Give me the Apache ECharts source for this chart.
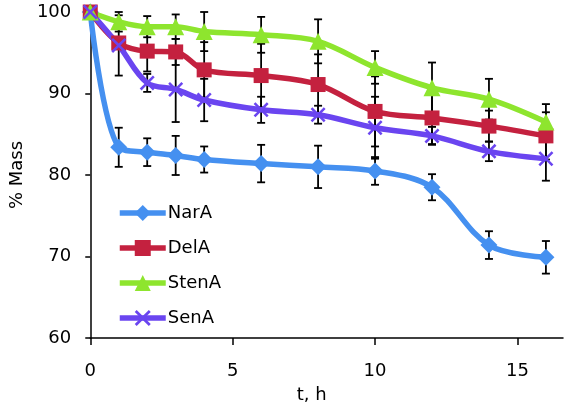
<!DOCTYPE html>
<html>
<head>
<meta charset="utf-8">
<script src="https://cdn.jsdelivr.net/npm/echarts@6/dist/echarts.min.js"></script>
<style>
html,body{margin:0;padding:0;background:#fff;}
#chart{width:564px;height:409px;}
</style>
</head>
<body>
<div id="chart"></div>
<script>
var times = [0, 1, 2, 3, 4, 6, 8, 10, 12, 14, 16];
var seriesNames = ['NarA', 'DelA', 'StenA', 'SenA'];
var narA  = [100, 83.4, 82.8, 82.4, 81.9, 81.4, 81.0, 80.5, 78.5, 71.4, 69.9];
var delA  = [100, 96.2, 95.2, 95.1, 92.9, 92.2, 91.1, 87.8, 87.0, 86.0, 84.8];
var stenA = [100, 98.8, 98.2, 98.2, 97.6, 97.2, 96.4, 93.2, 90.7, 89.3, 86.5];
var senA  = [100, 95.9, 91.3, 90.5, 89.2, 88.0, 87.4, 85.8, 84.8, 82.9, 82.0];
var narErr  = [0, 2.4, 1.7, 2.4, 1.6, 2.3, 2.6, 1.7, 1.6, 1.7, 2.0];
var delErr  = [0, 0.6, 2.5, 1.6, 3.4, 3.9, 3.7, 4.3, 3.2, 1.9, 2.9];
var stenErr = [0, 1.2, 1.3, 1.5, 2.4, 2.2, 2.7, 2.0, 3.1, 2.5, 2.2];
var senErr  = [0, 3.7, 1.1, 4.0, 2.6, 1.6, 1.1, 3.8, 1.1, 1.2, 2.7];
var yTicks = [60, 70, 80, 90, 100];
var xTicks = [0, 5, 10, 15];

var FONT = 'DejaVu Sans';
var colors = ['#4590f0', '#c4213f', '#8ee52e', '#6a45f0'];
var symbols = ['diamond', 'rect', 'triangle',
  'path://M1.2,0 L5,3.8 L8.8,0 L10,1.2 L6.2,5 L10,8.8 L8.8,10 L5,6.2 L1.2,10 L0,8.8 L3.8,5 L0,1.2 Z'];
var symSizes = [17, 15, 17, 15];
var values = [narA, delA, stenA, senA];
var errs = [narErr, delErr, stenErr, senErr];

function pairs(vals) {
  return times.map(function (t, i) { return [t, vals[i]]; });
}
function errData(vals, e) {
  return times.map(function (t, i) { return [t, vals[i] - e[i], vals[i] + e[i]]; });
}

var series = [];
for (var k = 0; k < 4; k++) {
  series.push({
    type: 'custom',
    name: seriesNames[k] + ' err',
    z: 1,
    silent: true,
    clip: false,
    data: errData(values[k], errs[k]),
    renderItem: function (params, api) {
      var x = api.value(0);
      var lo = api.coord([x, api.value(1)]);
      var hi = api.coord([x, api.value(2)]);
      if (Math.abs(lo[1] - hi[1]) < 0.5) return null;
      var w = 4;
      var st = { stroke: '#000', lineWidth: 1.8 };
      return {
        type: 'group',
        children: [
          { type: 'line', shape: { x1: lo[0], y1: lo[1], x2: hi[0], y2: hi[1] }, style: st },
          { type: 'line', shape: { x1: lo[0] - w, y1: lo[1], x2: lo[0] + w, y2: lo[1] }, style: st },
          { type: 'line', shape: { x1: hi[0] - w, y1: hi[1], x2: hi[0] + w, y2: hi[1] }, style: st }
        ]
      };
    }
  });
}
for (var j = 0; j < 4; j++) {
  series.push({
    type: 'line',
    name: seriesNames[j],
    z: 3,
    data: pairs(values[j]),
    smooth: 0.35,
    symbol: symbols[j],
    symbolSize: symSizes[j],
    showAllSymbol: true,
    lineStyle: { color: colors[j], width: 5.5 },
    itemStyle: { color: colors[j], opacity: 1 },
    emphasis: { disabled: true }
  });
}

var chart = echarts.init(document.getElementById('chart'), null, { renderer: 'canvas' });
chart.setOption({
  animation: false,
  backgroundColor: '#fff',
  textStyle: { fontFamily: FONT, color: '#000' },
  grid: { left: 83, right: 1, top: 12, bottom: 69, containLabel: false },
  legend: {
    data: seriesNames,
    orient: 'vertical',
    left: 112,
    top: 199,
    itemWidth: 46,
    itemHeight: 20,
    itemGap: 17,
    textStyle: { fontSize: 18, color: '#000', fontFamily: FONT, padding: [0, 0, 0, -3] },
    lineStyle: { width: 5.5 },
    selectedMode: false
  },
  xAxis: {
    type: 'value',
    min: 0,
    max: 16.6,
    interval: 5,
    name: 't, h',
    nameLocation: 'middle',
    nameGap: 48,
    nameTextStyle: { fontSize: 18, color: '#000', fontFamily: FONT, padding: [0, 30, 0, 0] },
    axisLine: { show: true, onZero: false, lineStyle: { color: '#000', width: 1.5 } },
    axisTick: { show: true, inside: false, length: 7, lineStyle: { color: '#000', width: 1.5 } },
    axisLabel: {
      fontSize: 18, color: '#000', margin: 24, fontFamily: FONT,
      showMaxLabel: false,
      formatter: function (v) { return xTicks.indexOf(v) >= 0 ? String(v) : ''; }
    },
    splitLine: { show: false }
  },
  yAxis: {
    type: 'value',
    min: 60,
    max: 100,
    interval: 10,
    name: '% Mass',
    nameLocation: 'middle',
    nameGap: 59,
    nameTextStyle: { fontSize: 18, color: '#000', fontFamily: FONT },
    axisLine: { show: true, lineStyle: { color: '#000', width: 1.5 } },
    axisTick: { show: true, inside: false, length: 5, lineStyle: { color: '#000', width: 1.5 } },
    axisLabel: {
      fontSize: 18, color: '#000', margin: 19, fontFamily: FONT,
      formatter: function (v) { return yTicks.indexOf(v) >= 0 ? String(v) : ''; }
    },
    splitLine: { show: false }
  },
  series: series
});
</script>
</body>
</html>
